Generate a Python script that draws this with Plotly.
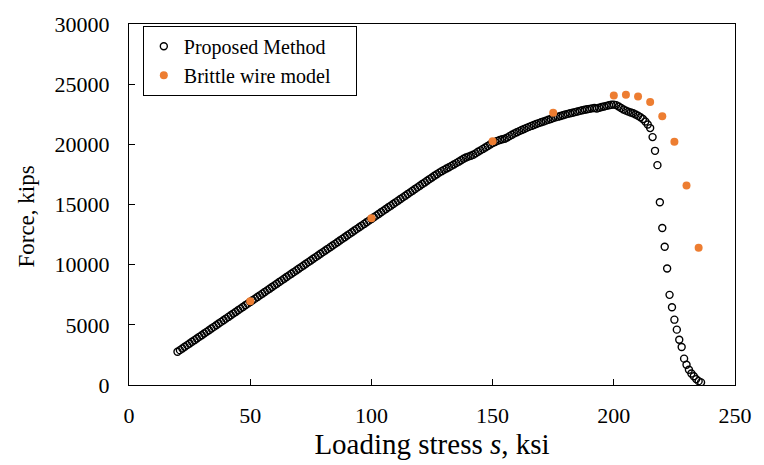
import plotly.graph_objects as go

# Proposed Method: loading stress (ksi) and force (kips)
proposed_s = list(range(20, 237))
proposed_f = [
    2760, 2898, 3036, 3174, 3312, 3450, 3588, 3726, 3864, 4002,
    4140, 4278, 4416, 4554, 4692, 4830, 4968, 5106, 5244, 5382,
    5520, 5658, 5796, 5934, 6072, 6210, 6348, 6486, 6624, 6762,
    6900, 7038, 7176, 7314, 7452, 7590, 7728, 7866, 8004, 8142,
    8280, 8418, 8556, 8694, 8832, 8970, 9108, 9246, 9384, 9522,
    9660, 9798, 9936, 10074, 10212, 10350, 10488, 10626, 10764, 10902,
    11040, 11178, 11316, 11454, 11592, 11730, 11868, 12006, 12144, 12282,
    12420, 12558, 12696, 12834, 12972, 13110, 13248, 13386, 13524, 13662,
    13800, 13938, 14076, 14214, 14352, 14490, 14628, 14766, 14904, 15042,
    15180, 15318, 15456, 15594, 15732, 15870, 16008, 16146, 16284, 16422,
    16560, 16698, 16836, 16974, 17112, 17250,
    17385, 17520, 17650, 17770, 17880, 17990, 18100, 18210, 18320, 18440,
    18560, 18680, 18800, 18900, 18980, 19050, 19130, 19250, 19380, 19500,
    19620, 19740, 19860, 19980, 20100, 20200, 20290, 20360, 20420, 20470,
    20560, 20680, 20800, 20910, 21010, 21100, 21190, 21280, 21370, 21450,
    21530, 21610, 21690, 21760, 21830, 21900, 21970, 22040, 22110, 22180,
    22240, 22300, 22360, 22420, 22480, 22530, 22580, 22630, 22680, 22730,
    22780, 22830, 22870, 22910, 22950, 22990, 23020, 22980, 23040, 23100,
    23150, 23200, 23250, 23290, 23300, 23260, 23150, 23020, 22900, 22800,
    22720, 22650, 22580, 22480, 22370, 22250, 22100, 21900, 21650, 21350,
    20600, 19460, 18270, 15190, 13050, 11490, 9680, 7490, 6460, 5430,
    4600, 3760, 3160, 2190, 1680, 1270, 950, 730, 490, 320, 220,
]

# Brittle wire model
brittle_s = [50, 100, 150, 175, 200, 205, 210, 215, 220, 225, 230, 235]
brittle_f = [6950, 13850, 20250, 22620, 24050, 24120, 23970, 23510, 22340, 20210, 16580, 11400]

x_ticks = [0, 50, 100, 150, 200, 250]
y_ticks = [0, 5000, 10000, 15000, 20000, 25000, 30000]

FONT = "Liberation Serif, Times New Roman, serif"
PAD = "\u00a0" * 4

fig = go.Figure()
fig.add_trace(go.Scatter(
    x=proposed_s, y=proposed_f, mode="markers", name="Proposed Method",
    marker=dict(symbol="circle-open", size=7, color="black", line=dict(width=1.4, color="black")),
))
fig.add_trace(go.Scatter(
    x=brittle_s, y=brittle_f, mode="markers", name="Brittle wire model" + PAD,
    marker=dict(symbol="circle", size=8, color="#ED7D31"),
))

axis_common = dict(
    showline=True, linecolor="black", linewidth=1.3, mirror=True,
    showgrid=False, zeroline=False, ticks="inside", ticklen=6, tickwidth=1,
    tickcolor="black", tickfont=dict(family=FONT, size=22, color="black"),
)

fig.update_layout(
    width=764, height=465,
    margin=dict(l=129, r=21, t=15, b=80),
    paper_bgcolor="white", plot_bgcolor="white",
    font=dict(family=FONT, color="black"),
    showlegend=True,
    legend=dict(
        x=0.0228, y=0.995, xanchor="left", yanchor="top",
        bgcolor="white", bordercolor="black", borderwidth=1,
        font=dict(family=FONT, size=20, color="black"),
        itemwidth=30,
    ),
    xaxis=dict(
        range=[0, 250], tickvals=x_ticks, ticktext=[str(v) for v in x_ticks],
        title=dict(text="Loading stress <i>s</i>, ksi", font=dict(family=FONT, size=29), standoff=4),
        ticklabelstandoff=10,
        **axis_common,
    ),
    yaxis=dict(
        range=[0, 30000], tickvals=y_ticks, ticktext=[str(v) for v in y_ticks],
        ticklabelstandoff=14,
        **axis_common,
    ),
    annotations=[dict(
        text="Force, kips", textangle=-90, showarrow=False,
        xref="paper", yref="paper", x=(25 - 129) / 614, y=(385 - 212) / 370,
        xanchor="center", yanchor="middle",
        font=dict(family=FONT, size=23, color="black"),
    )],
)

fig.write_html("out.html")
